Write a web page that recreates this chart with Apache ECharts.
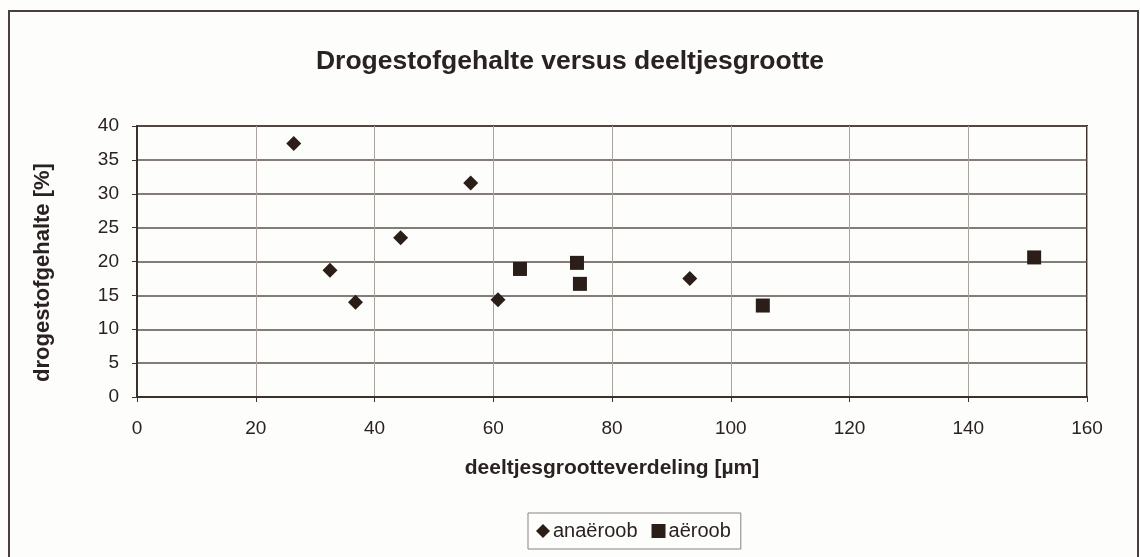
<!DOCTYPE html>
<html>
<head>
<meta charset="utf-8">
<script src="https://cdn.jsdelivr.net/npm/echarts@6/dist/echarts.min.js"></script>
<style>
html,body{margin:0;padding:0;background:#fdfdfb;}
#frame{position:absolute;left:8px;top:10px;width:1131px;height:560px;border-left:2px solid #4a3f3a;border-top:2px solid #4a3f3a;border-right:2px solid #4a3f3a;box-sizing:border-box;}
#chart{position:absolute;left:0;top:0;width:1140px;height:557px;}
</style>
</head>
<body>
<div id="frame"></div>
<div id="chart"></div>
<script>
const titleText = "Drogestofgehalte versus deeltjesgrootte";
const xAxisName = "deeltjesgrootteverdeling [µm]";
const yAxisName = "drogestofgehalte [%]";
const seriesNames = ["anaëroob", "aëroob"];
const anaeroobX = [26.4, 32.5, 36.8, 44.4, 56.2, 60.8, 93.1];
const anaeroobY = [37.4, 18.7, 14.0, 23.5, 31.6, 14.35, 17.5];
const aeroobX = [64.5, 74.1, 74.6, 105.4, 151.1];
const aeroobY = [18.9, 19.8, 16.7, 13.5, 20.6];

const ink = "#2b1d17";
const txt = "#2a2220";
const font = "Liberation Sans, Arial, sans-serif";
const chart = echarts.init(document.getElementById('chart'), null, {renderer: 'canvas'});
chart.setOption({
  backgroundColor: 'transparent',
  animation: false,
  title: {
    text: titleText, left: 'center', top: 43, padding: [5, 0, 5, 10],
    textStyle: {fontFamily: font, fontSize: 26.5, fontWeight: 'bold', color: txt}
  },
  legend: {
    top: 513, left: 528, itemGap: 14, itemWidth: 14, itemHeight: 14,
    padding: [8, 10, 8, 8], borderColor: '#8a8380', borderWidth: 1,
    textStyle: {fontFamily: font, fontSize: 20, color: txt, padding: [0, 0, 0, -2]},
    data: [{name: seriesNames[0], icon: 'diamond'}, {name: seriesNames[1], icon: 'rect'}]
  },
  grid: {left: 137, right: 53, top: 126, bottom: 160, show: true, borderColor: '#3c302b', borderWidth: 2},
  xAxis: {
    type: 'value', min: 0, max: 160, interval: 20,
    name: xAxisName, nameLocation: 'middle', nameGap: 61,
    nameTextStyle: {fontFamily: font, fontSize: 21, fontWeight: 'bold', color: txt},
    axisLine: {show: true, onZero: false, lineStyle: {color: '#3c302b', width: 2}},
    axisTick: {show: true, length: 5, lineStyle: {color: '#3c302b'}},
    axisLabel: {fontFamily: font, fontSize: 19, color: txt, margin: 22},
    splitLine: {show: true, lineStyle: {color: '#aaa29c', width: 1}}
  },
  yAxis: {
    type: 'value', min: 0, max: 40, interval: 5,
    name: yAxisName, nameLocation: 'middle', nameGap: 83, nameRotate: 90,
    nameTextStyle: {fontFamily: font, fontSize: 22, fontWeight: 'bold', color: txt, padding: [0, 22, 0, 0]},
    axisLine: {show: true, lineStyle: {color: '#3c302b', width: 2}},
    axisTick: {show: true, length: 5, lineStyle: {color: '#3c302b'}},
    axisLabel: {fontFamily: font, fontSize: 19, color: txt, margin: 18},
    splitLine: {show: true, lineStyle: {color: '#5a504b', width: 1.6}}
  },
  series: [
    {name: seriesNames[0], type: 'scatter', symbol: 'diamond', symbolSize: 15,
     itemStyle: {color: ink, opacity: 1},
     data: anaeroobX.map((x, i) => [x, anaeroobY[i]])},
    {name: seriesNames[1], type: 'scatter', symbol: 'rect', symbolSize: 14,
     itemStyle: {color: ink, opacity: 1},
     data: aeroobX.map((x, i) => [x, aeroobY[i]])}
  ]
});
</script>
</body>
</html>
